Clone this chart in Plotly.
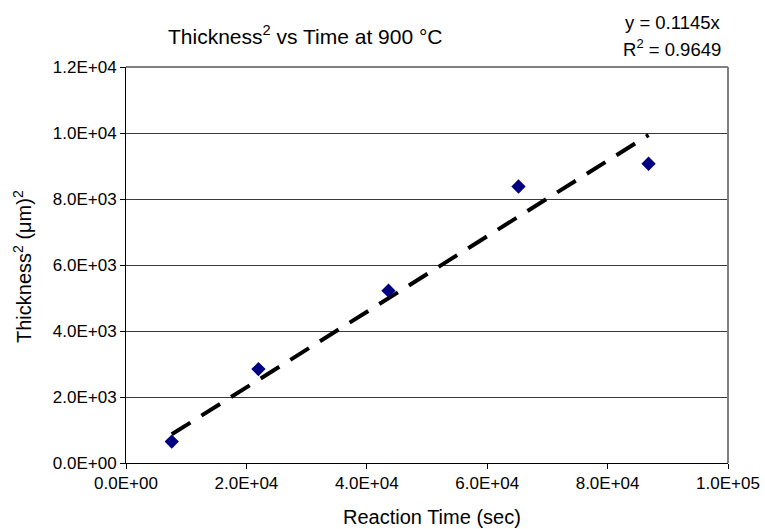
import plotly.graph_objects as go

# Data
time_sec = [7600, 22000, 43600, 65200, 86800]
thickness_sq = [650, 2845, 5222, 8379, 9068]
slope = 0.1145
r_squared = 0.9649

x_tickvals = [0, 20000, 40000, 60000, 80000, 100000]
x_ticktext = ["0.0E+00", "2.0E+04", "4.0E+04", "6.0E+04", "8.0E+04", "1.0E+05"]
y_tickvals = [0, 2000, 4000, 6000, 8000, 10000, 12000]
y_ticktext = ["0.0E+00", "2.0E+03", "4.0E+03", "6.0E+03", "8.0E+03", "1.0E+04", "1.2E+04"]

trend_x = [min(time_sec), max(time_sec)]
trend_y = [slope * v for v in trend_x]

font_family = "Liberation Sans, Arial, sans-serif"

# plot-area geometry (pixels) used to place the free texts
L, R, T, B = 126, 728, 67, 463
W, H = R - L, B - T


def px(xpix):
    return (xpix - L) / W


def py(ypix):
    return (B - ypix) / H


fig = go.Figure()
fig.add_trace(go.Scatter(
    x=trend_x, y=trend_y, mode="lines",
    line=dict(color="black", width=4, dash="22px,13px"),
    showlegend=False, hoverinfo="skip"))
fig.add_trace(go.Scatter(
    x=time_sec, y=thickness_sq, mode="markers",
    marker=dict(symbol="diamond", size=11, color="#000080", line=dict(width=0)),
    showlegend=False))

fig.update_layout(
    width=765, height=529,
    margin=dict(l=L, r=765 - R, t=T, b=529 - B, autoexpand=False),
    paper_bgcolor="white", plot_bgcolor="white",
    font=dict(family=font_family, size=17, color="black"),
    xaxis=dict(
        range=[0, 100000], tickvals=x_tickvals, ticktext=x_ticktext,
        showgrid=False, zeroline=False, showline=True, linecolor="black", linewidth=1,
        ticks="outside", ticklen=5, tickcolor="black", ticklabeloverflow="allow",
        automargin=False),
    yaxis=dict(
        range=[0, 12000], tickvals=y_tickvals, ticktext=y_ticktext,
        showgrid=True, gridcolor="#3a3a3a", gridwidth=1, zeroline=False,
        showline=True, linecolor="black", linewidth=1,
        ticks="outside", ticklen=5, tickcolor="black", ticklabeloverflow="allow",
        automargin=False),
    shapes=[
        dict(type="line", xref="paper", yref="paper", x0=0, x1=1, y0=1, y1=1,
             line=dict(color="#808080", width=2)),
        dict(type="line", xref="paper", yref="paper", x0=1, x1=1, y0=0, y1=1,
             line=dict(color="#808080", width=2)),
    ],
    annotations=[
        dict(text="Thickness<sup>2</sup> vs Time at 900 °C", xref="paper", yref="paper",
             x=px(305), y=py(35), showarrow=False,
             xanchor="center", yanchor="middle", font=dict(size=21)),
        dict(text=f"y = {slope}x", xref="paper", yref="paper",
             x=px(723), y=py(22), showarrow=False,
             xanchor="right", yanchor="middle", font=dict(size=18.5)),
        dict(text=f"R<sup>2</sup> = {r_squared}", xref="paper", yref="paper",
             x=px(723), y=py(48), showarrow=False,
             xanchor="right", yanchor="middle", font=dict(size=18.5)),
        dict(text="Reaction Time (sec)", xref="paper", yref="paper",
             x=px(432), y=py(517), showarrow=False,
             xanchor="center", yanchor="middle", font=dict(size=20)),
        dict(text="Thickness<sup>2</sup> (μm)<sup>2</sup>", xref="paper", yref="paper",
             x=px(22), y=py(267), showarrow=False, textangle=-90,
             xanchor="center", yanchor="middle", font=dict(size=20)),
    ],
)

fig.write_html("out.html", config={"displayModeBar": False},
               post_script="document.body.style.margin='0px';")
